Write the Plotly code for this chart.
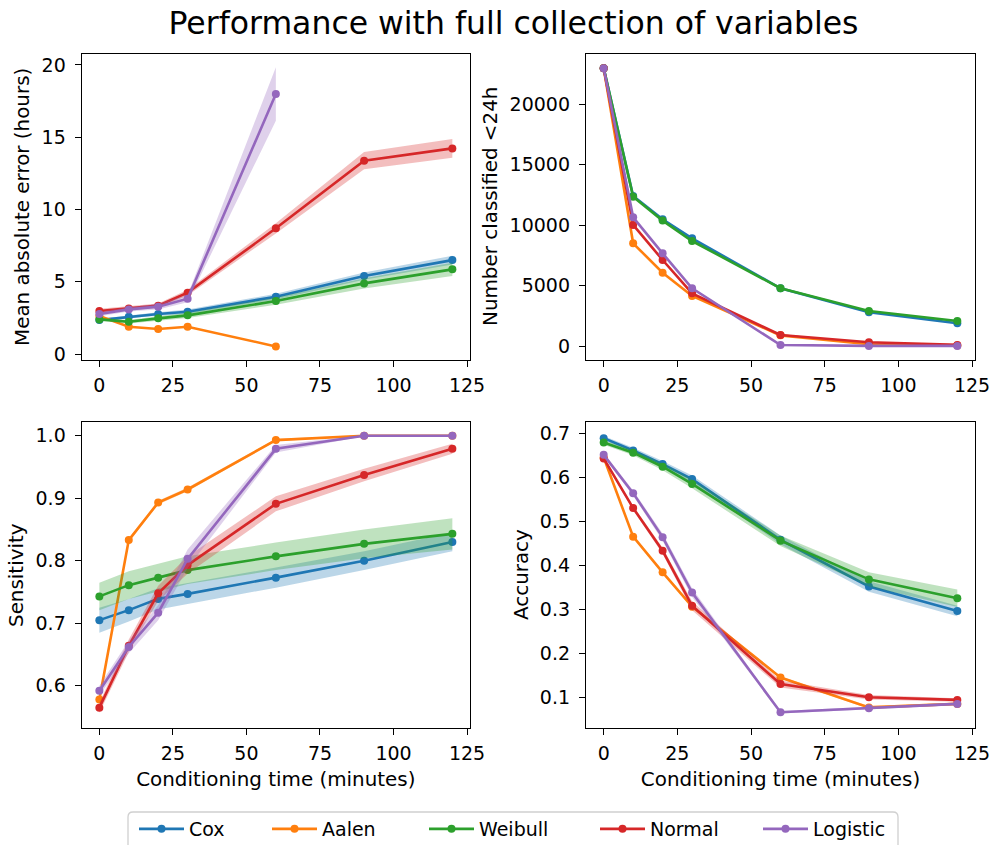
import plotly.graph_objects as go
from plotly.subplots import make_subplots

# Conditioning times (minutes)
times = [0, 10, 20, 30, 60, 90, 120]
times_short = [0, 10, 20, 30, 60]

models = ["Cox", "Aalen", "Weibull", "Normal", "Logistic"]
colors = ["#1f77b4", "#ff7f0e", "#2ca02c", "#d62728", "#9467bd"]
fills = ["rgba(31,119,180,0.3)", "rgba(255,127,14,0.3)", "rgba(44,160,44,0.3)",
         "rgba(214,39,40,0.3)", "rgba(148,103,189,0.3)"]

# Mean absolute error (hours): mean and half-width of the band
mae_cox = [2.35, 2.58, 2.77, 2.93, 3.97, 5.40, 6.50]
mae_cox_err = [0.10, 0.10, 0.12, 0.15, 0.20, 0.25, 0.30]
mae_aalen = [2.63, 1.89, 1.73, 1.89, 0.53]
mae_aalen_err = [0.03, 0.03, 0.03, 0.03, 0.03]
mae_weibull = [2.40, 2.24, 2.47, 2.68, 3.67, 4.89, 5.86]
mae_weibull_err = [0.10, 0.12, 0.15, 0.18, 0.25, 0.35, 0.45]
mae_normal = [2.98, 3.16, 3.35, 4.25, 8.70, 13.38, 14.23]
mae_normal_err = [0.15, 0.15, 0.15, 0.20, 0.35, 0.60, 0.65]
mae_logistic = [2.77, 3.09, 3.28, 3.83, 17.99]
mae_logistic_err = [0.15, 0.15, 0.20, 0.25, 1.85]

# Number classified <24h
num_cox = [23000, 12420, 10490, 8910, 4780, 2790, 1880]
num_aalen = [23000, 8500, 6070, 4140, 880, 150, 50]
num_weibull = [23000, 12360, 10380, 8690, 4780, 2900, 2070]
num_normal = [23000, 10020, 7120, 4360, 910, 310, 90]
num_logistic = [23000, 10650, 7670, 4780, 80, 10, 10]

# Sensitivity
sens_cox = [0.705, 0.721, 0.739, 0.747, 0.773, 0.800, 0.830]
sens_cox_err = [0.020, 0.018, 0.017, 0.017, 0.016, 0.015, 0.015]
sens_aalen = [0.578, 0.833, 0.893, 0.914, 0.993, 1.000, 1.000]
sens_aalen_err = [0.003, 0.003, 0.003, 0.003, 0.002, 0.001, 0.001]
sens_weibull = [0.743, 0.761, 0.773, 0.785, 0.807, 0.827, 0.843]
sens_weibull_err = [0.022, 0.022, 0.022, 0.022, 0.022, 0.023, 0.025]
sens_normal = [0.565, 0.664, 0.748, 0.793, 0.891, 0.937, 0.979]
sens_normal_err = [0.008, 0.010, 0.012, 0.014, 0.012, 0.010, 0.008]
sens_logistic = [0.592, 0.662, 0.717, 0.803, 0.979, 1.000, 1.000]
sens_logistic_err = [0.008, 0.010, 0.012, 0.015, 0.006, 0.001, 0.001]

# Accuracy
acc_cox = [0.689, 0.661, 0.630, 0.596, 0.458, 0.352, 0.296]
acc_cox_err = [0.005, 0.006, 0.007, 0.008, 0.010, 0.012, 0.012]
acc_aalen = [0.645, 0.465, 0.384, 0.306, 0.145, 0.077, 0.085]
acc_aalen_err = [0.003, 0.003, 0.003, 0.003, 0.003, 0.003, 0.003]
acc_weibull = [0.679, 0.656, 0.624, 0.585, 0.456, 0.368, 0.325]
acc_weibull_err = [0.005, 0.006, 0.008, 0.010, 0.012, 0.016, 0.020]
acc_normal = [0.643, 0.530, 0.433, 0.308, 0.130, 0.100, 0.094]
acc_normal_err = [0.004, 0.005, 0.007, 0.010, 0.008, 0.005, 0.004]
acc_logistic = [0.651, 0.564, 0.464, 0.338, 0.066, 0.075, 0.085]
acc_logistic_err = [0.004, 0.006, 0.008, 0.010, 0.003, 0.003, 0.003]

panels = [
    (1, 1, [(times, mae_cox, mae_cox_err), (times_short, mae_aalen, mae_aalen_err),
            (times, mae_weibull, mae_weibull_err), (times, mae_normal, mae_normal_err),
            (times_short, mae_logistic, mae_logistic_err)]),
    (1, 2, [(times, num_cox, None), (times, num_aalen, None), (times, num_weibull, None),
            (times, num_normal, None), (times, num_logistic, None)]),
    (2, 1, [(times, sens_cox, sens_cox_err), (times, sens_aalen, sens_aalen_err),
            (times, sens_weibull, sens_weibull_err), (times, sens_normal, sens_normal_err),
            (times, sens_logistic, sens_logistic_err)]),
    (2, 2, [(times, acc_cox, acc_cox_err), (times, acc_aalen, acc_aalen_err),
            (times, acc_weibull, acc_weibull_err), (times, acc_normal, acc_normal_err),
            (times, acc_logistic, acc_logistic_err)]),
]

FONT = "DejaVu Sans"
W, H = 997, 845
legend_ids = ["legend", "legend2", "legend3", "legend4", "legend5"]

fig = make_subplots(rows=2, cols=2)

for row, col, series in panels:
    for i, (x, y, err) in enumerate(series):
        if err is not None:
            upper = [v + e for v, e in zip(y, err)]
            lower = [v - e for v, e in zip(y, err)]
            fig.add_trace(go.Scatter(
                x=list(x) + list(x)[::-1], y=upper + lower[::-1],
                fill="toself", fillcolor=fills[i], line=dict(width=0),
                mode="lines", hoverinfo="skip", showlegend=False,
            ), row=row, col=col)
        fig.add_trace(go.Scatter(
            x=x, y=y, mode="lines+markers", name=models[i],
            line=dict(color=colors[i], width=2.6),
            marker=dict(color=colors[i], size=8),
            showlegend=(row == 1 and col == 1), legendgroup=models[i],
            legend=legend_ids[i],
        ), row=row, col=col)

xdom_left = [81.7 / W, 470 / W]
xdom_right = [586 / W, 975 / W]
ydom_top = [1 - 360 / H, 1 - 54 / H]
ydom_bot = [1 - 728.3 / H, 1 - 421.7 / H]

TICK = 19
LABEL = 19.9
axis_style = dict(
    showline=True, mirror=True, linecolor="black", linewidth=1.3,
    ticks="outside", ticklen=6, tickwidth=1.3, tickcolor="black",
    tickfont=dict(family=FONT, size=TICK, color="black"),
    showgrid=False, zeroline=False,
)
title_font = dict(family=FONT, size=LABEL, color="black")

fig.update_layout(
    width=W, height=H,
    margin=dict(l=0, r=0, t=0, b=0, autoexpand=False),
    paper_bgcolor="white", plot_bgcolor="white",
    font=dict(family=FONT, color="black"),
    title=dict(text="Performance with full collection of variables",
               x=513.5 / W, xanchor="center", y=1 - 23 / H, yanchor="middle",
               font=dict(family=FONT, size=31.5, color="black")),
    showlegend=True,
)

# One legend per model, laid out in a single row inside a shared frame
legend_left_px = [134, 267, 424, 595, 758]
for lid, px in zip(legend_ids, legend_left_px):
    fig.update_layout({lid: dict(
        orientation="h", x=px / W, xanchor="left", y=1 - 810 / H, yanchor="top",
        borderwidth=0, bgcolor="rgba(0,0,0,0)",
        font=dict(family=FONT, size=19, color="black"), itemwidth=45,
    )})

# Legend frame (rounded top corners; the lower edge runs past the page)
fx0, fx1, fy0, fy1, rad = 128, 898, 812, 860, 5
frame_path = (
    f"M {fx0 / W},{1 - fy1 / H} "
    f"L {fx0 / W},{1 - (fy0 + rad) / H} "
    f"Q {fx0 / W},{1 - fy0 / H} {(fx0 + rad) / W},{1 - fy0 / H} "
    f"L {(fx1 - rad) / W},{1 - fy0 / H} "
    f"Q {fx1 / W},{1 - fy0 / H} {fx1 / W},{1 - (fy0 + rad) / H} "
    f"L {fx1 / W},{1 - fy1 / H} Z"
)
fig.add_shape(type="path", path=frame_path, xref="paper", yref="paper",
              line=dict(color="#d0d0d0", width=1.3), fillcolor="white", layer="below")

xr = [-6, 126]
xt = [0, 25, 50, 75, 100, 125]
xlabel = "Conditioning time (minutes)"
fig.update_layout(
    xaxis=dict(domain=xdom_left, range=xr, tickvals=xt, anchor="y",
               ticklabelstandoff=2, **axis_style),
    xaxis2=dict(domain=xdom_right, range=xr, tickvals=xt, anchor="y2",
                ticklabelstandoff=2, **axis_style),
    xaxis3=dict(domain=xdom_left, range=xr, tickvals=xt, anchor="y3", ticklabelstandoff=2,
                title=dict(text=xlabel, font=title_font, standoff=8), **axis_style),
    xaxis4=dict(domain=xdom_right, range=xr, tickvals=xt, anchor="y4", ticklabelstandoff=2,
                title=dict(text=xlabel, font=title_font, standoff=8), **axis_style),
    yaxis=dict(domain=ydom_top, range=[-0.41, 20.76], tickvals=[0, 5, 10, 15, 20],
               anchor="x", ticklabelstandoff=5, **axis_style),
    yaxis2=dict(domain=ydom_top, range=[-1159, 24172], tickvals=[0, 5000, 10000, 15000, 20000],
                tickformat="d", anchor="x2", ticklabelstandoff=5, **axis_style),
    yaxis3=dict(domain=ydom_bot, range=[0.532, 1.0224], tickvals=[0.6, 0.7, 0.8, 0.9, 1.0],
                tickformat=".1f", anchor="x3", ticklabelstandoff=5, **axis_style),
    yaxis4=dict(domain=ydom_bot, range=[0.0295, 0.7264],
                tickvals=[0.1, 0.2, 0.3, 0.4, 0.5, 0.6, 0.7], tickformat=".1f", anchor="x4",
                ticklabelstandoff=5, **axis_style),
)

# Vertical axis titles placed beside each panel
ytitles = [
    ("Mean absolute error (hours)", 22, ydom_top),
    ("Number classified <24h", 490, ydom_top),
    ("Sensitivity", 17, ydom_bot),
    ("Accuracy", 522, ydom_bot),
]
for text, px, dom in ytitles:
    fig.add_annotation(text=text, x=px / W, y=(dom[0] + dom[1]) / 2,
                       xref="paper", yref="paper", xanchor="center", yanchor="middle",
                       textangle=-90, showarrow=False, font=title_font)

fig.write_html("out.html")
